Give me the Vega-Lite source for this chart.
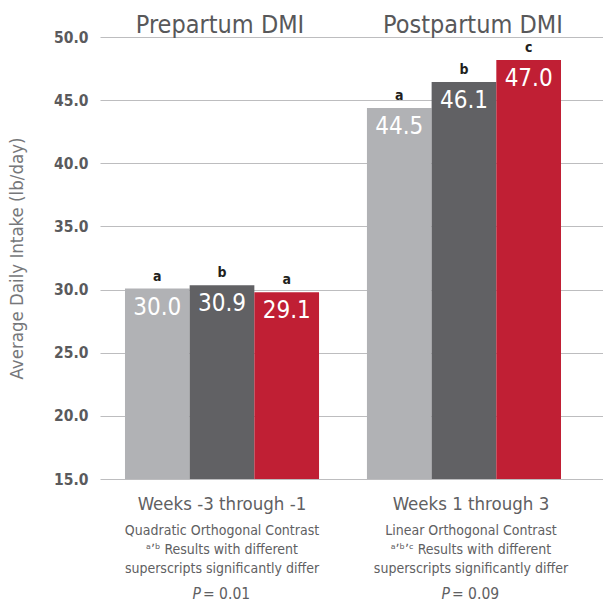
{
  "$schema": "https://vega.github.io/schema/vega-lite/v6.json",
  "width": 503,
  "height": 442,
  "autosize": {"type": "none"},
  "padding": {"left": 100, "top": 37, "right": 0, "bottom": 125},
  "background": "white",
  "config": {
    "view": {"stroke": null},
    "font": "DejaVu Sans Condensed, sans-serif",
    "axis": {"labelFont": "DejaVu Sans Condensed, sans-serif", "titleFont": "DejaVu Sans Condensed, sans-serif", "labelLimit": 0}
  },
  "data": {
    "values": [
      {"group": "pre", "treatment": "T1", "value": 30.08, "label": "30.0", "letter": "a"},
      {"group": "pre", "treatment": "T2", "value": 30.34, "label": "30.9", "letter": "b"},
      {"group": "pre", "treatment": "T3", "value": 29.79, "label": "29.1", "letter": "a"},
      {"group": "post", "treatment": "T1", "value": 44.37, "label": "44.5", "letter": "a"},
      {"group": "post", "treatment": "T2", "value": 46.43, "label": "46.1", "letter": "b"},
      {"group": "post", "treatment": "T3", "value": 48.17, "label": "47.0", "letter": "c"}
    ]
  },
  "resolve": {"scale": {"x": "shared"}, "axis": {"x": "independent"}},
  "layer": [
    {
      "mark": {"type": "bar"},
      "encoding": {
        "x": {
          "field": "group", "type": "nominal", "sort": ["pre", "post"],
          "scale": {"paddingInner": 0.198, "paddingOuter": 0.1384, "align": 0.373},
          "axis": {
            "orient": "top", "title": null, "domain": false, "ticks": false, "grid": false,
            "labelExpr": "datum.value == 'pre' ? 'Prepartum DMI' : 'Postpartum DMI'",
            "labelFontSize": 25, "labelColor": "#58585a", "labelPadding": 5,
            "labelBaseline": "alphabetic", "labelAngle": 0, "labelOverlap": false,
            "labelOffset": {"condition": {"test": "datum.value == 'pre'", "value": -2}, "value": 9}
          }
        },
        "xOffset": {"field": "treatment", "type": "nominal", "sort": ["T1", "T2", "T3"], "scale": {"paddingInner": 0, "paddingOuter": 0}},
        "y": {
          "field": "value", "type": "quantitative",
          "scale": {"domain": [15, 50], "nice": false, "zero": false},
          "axis": {
            "title": "Average Daily Intake (lb/day)", "titleFontSize": 18.5, "titleFontWeight": "normal",
            "titleColor": "#76777a", "titlePadding": 27,
            "values": [15, 20, 25, 30, 35, 40, 45, 50], "format": ".1f",
            "labelFontSize": 15.5, "labelFontWeight": "bold", "labelColor": "#5a5a5c", "labelPadding": 12,
            "domain": false, "ticks": false, "grid": true, "gridColor": "#bdbdbf", "gridWidth": 1.2
          }
        },
        "y2": {"datum": 15},
        "color": {
          "field": "treatment", "type": "nominal", "legend": null,
          "scale": {"domain": ["T1", "T2", "T3"], "range": ["#b1b2b5", "#616164", "#c01f34"]}
        }
      }
    },
    {
      "mark": {"type": "text", "baseline": "alphabetic", "dy": 26, "fontSize": 24, "color": "white"},
      "encoding": {
        "x": {
          "field": "group", "type": "nominal", "sort": ["pre", "post"],
          "axis": {
            "orient": "bottom", "title": null, "domain": false, "ticks": false, "grid": false,
            "labelExpr": "datum.value == 'pre' ? 'Weeks -3 through -1' : 'Weeks 1 through 3'",
            "labelFontSize": 18.5, "labelColor": "#606062", "labelPadding": 30,
            "labelBaseline": "alphabetic", "labelAngle": 0, "labelOverlap": false,
            "labelOffset": {"condition": {"test": "datum.value == 'pre'", "value": 0}, "value": 7}
          }
        },
        "xOffset": {"field": "treatment", "type": "nominal", "sort": ["T1", "T2", "T3"]},
        "y": {"field": "value", "type": "quantitative"},
        "text": {"field": "label", "type": "nominal"}
      }
    },
    {
      "mark": {"type": "text", "baseline": "alphabetic", "dy": -8, "fontSize": 14, "fontWeight": "bold", "color": "#231f20"},
      "encoding": {
        "x": {
          "field": "group", "type": "nominal", "sort": ["pre", "post"],
          "axis": {
            "orient": "bottom", "title": null, "domain": false, "ticks": false, "grid": false,
            "labelExpr": "datum.value == 'pre' ? ['Quadratic Orthogonal Contrast', 'ᵃʼᵇ Results with different', 'superscripts significantly differ'] : ['Linear Orthogonal Contrast', 'ᵃʼᵇʼᶜ Results with different', 'superscripts significantly differ']",
            "labelFontSize": 14, "labelColor": "#606062", "labelPadding": 55, "labelLineHeight": 19,
            "labelBaseline": "alphabetic", "labelAngle": 0, "labelOverlap": false,
            "labelOffset": {"condition": {"test": "datum.value == 'pre'", "value": 0}, "value": 7}
          }
        },
        "xOffset": {"field": "treatment", "type": "nominal", "sort": ["T1", "T2", "T3"]},
        "y": {"field": "value", "type": "quantitative"},
        "text": {"field": "letter", "type": "nominal"}
      }
    },
    {
      "mark": {"type": "text", "text": ""},
      "encoding": {
        "x": {
          "field": "group", "type": "nominal", "sort": ["pre", "post"],
          "axis": {
            "orient": "bottom", "title": null, "domain": false, "ticks": false, "grid": false,
            "labelExpr": "'P'", "labelFontStyle": "italic", "labelAlign": "right",
            "labelFontSize": 15.5, "labelColor": "#606062", "labelPadding": 119,
            "labelBaseline": "alphabetic", "labelAngle": 0, "labelOverlap": false,
            "labelOffset": {"condition": {"test": "datum.value == 'pre'", "value": -21}, "value": -14}
          }
        }
      }
    },
    {
      "mark": {"type": "text", "text": ""},
      "encoding": {
        "x": {
          "field": "group", "type": "nominal", "sort": ["pre", "post"],
          "axis": {
            "orient": "bottom", "title": null, "domain": false, "ticks": false, "grid": false,
            "labelExpr": "datum.value == 'pre' ? '= 0.01' : '= 0.09'", "labelAlign": "left",
            "labelFontSize": 15.5, "labelColor": "#606062", "labelPadding": 119,
            "labelBaseline": "alphabetic", "labelAngle": 0, "labelOverlap": false,
            "labelOffset": {"condition": {"test": "datum.value == 'pre'", "value": -19}, "value": -12}
          }
        }
      }
    }
  ]
}
